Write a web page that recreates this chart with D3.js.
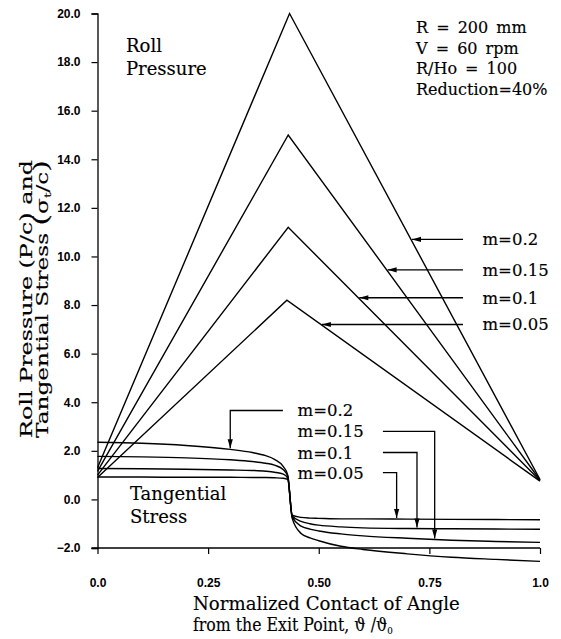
<!DOCTYPE html>
<html>
<head>
<meta charset="utf-8">
<script src="https://cdn.jsdelivr.net/npm/d3@7"></script>
<style>
  body { margin: 0; background: #fff; }
  .txt { font-family: "DejaVu Serif", "Liberation Serif", serif; fill: #000; stroke: #000; stroke-width: 0.15px; }
  .tick text { font-family: "Liberation Sans Narrow", "Liberation Sans", Arial, sans-serif; font-weight: bold; font-size: 12px; }
</style>
</head>
<body>
<div id="svg"></div>
<script>
// m values, ordered small -> large
var mLabels = ["m=0.05", "m=0.1", "m=0.15", "m=0.2"];

// roll pressure: straight rise to peak, straight fall to exit
var pressureStart = [0.9, 1.0, 1.15, 1.3];
var pressurePeakX = [0.428, 0.431, 0.431, 0.434];
var pressurePeak  = [8.2, 11.2, 15.0, 20.0];
var pressureEnd   = [0.75, 0.78, 0.8, 0.82];

// tangential stress
var stressX = [0, 0.1, 0.2, 0.3, 0.35, 0.38, 0.40, 0.42, 0.43, 0.44, 0.46, 0.48, 0.5, 0.55, 0.6, 0.7, 0.8, 0.9, 1.0];
var stress005 = [0.92, 0.92, 0.91, 0.91, 0.90, 0.90, 0.89, 0.87, 0.82, -0.65, -0.74, -0.77, -0.78, -0.80, -0.80, -0.81, -0.82, -0.83, -0.84];
var stress010 = [1.27, 1.26, 1.24, 1.21, 1.19, 1.16, 1.12, 1.04, 0.88, -0.68, -0.90, -1.00, -1.06, -1.13, -1.17, -1.20, -1.21, -1.22, -1.23];
var stress015 = [1.77, 1.75, 1.71, 1.63, 1.56, 1.49, 1.41, 1.22, 0.94, -0.72, -1.10, -1.22, -1.30, -1.42, -1.50, -1.60, -1.68, -1.73, -1.77];
var stress020 = [2.35, 2.31, 2.22, 2.06, 1.93, 1.80, 1.65, 1.35, 1.00, -0.78, -1.40, -1.58, -1.70, -1.93, -2.06, -2.24, -2.38, -2.47, -2.55];
var stressSeries = [stress005, stress010, stress015, stress020];

// annotation anchors (data units)
var pressLabelY  = [7.2, 8.3, 9.45, 10.7];
var stressLabelY = [1.1, 1.93, 2.8, 3.66];
var stressArrowX = [0.676, 0.722, 0.762, 0.30];

var xTicks = [0, 0.25, 0.5, 0.75, 1.0];
var xTickLabels = ["0.0", "0.25", "0.50", "0.75", "1.0"];
var yTicks = [-2, 0, 2, 4, 6, 8, 10, 12, 14, 16, 18, 20];

var infoLines = ["R = 200 mm", "V = 60 rpm", "R/Ho = 100", "Reduction=40%"];

var width = 561, height = 639;
var margin = {left: 97.5, top: 13.5, right: 21, bottom: 91};

var svg = d3.select("#svg").append("svg")
    .attr("width", width)
    .attr("height", height);

var x = d3.scaleLinear().domain([0, 1]).range([margin.left, width - margin.right]);
var y = d3.scaleLinear().domain([-2, 20]).range([height - margin.bottom, margin.top]);

// axes
var xAxis = svg.append("g")
    .attr("transform", "translate(0," + y(-2) + ")")
    .call(d3.axisBottom(x).tickValues(xTicks).tickFormat((d, i) => xTickLabels[i]).tickSize(6).tickPadding(24));
var yAxis = svg.append("g")
    .attr("transform", "translate(" + x(0) + ",0)")
    .call(d3.axisLeft(y).tickValues(yTicks).tickFormat(d3.format(".1f")).tickSize(6).tickPadding(11));
[xAxis, yAxis].forEach(function(a) {
    a.select(".domain").attr("stroke", "#000").attr("stroke-width", 1.3);
    a.selectAll(".tick line").attr("stroke", "#000").attr("stroke-width", 1.2);
    a.selectAll(".tick text").attr("fill", "#000");
});
xAxis.select(".domain").attr("d", "M" + (x(0) - 6) + ",0H" + x(1));

var line = d3.line().x(d => x(d[0])).y(d => y(d[1]));
var curve = d3.line().x(d => x(d[0])).y(d => y(d[1])).curve(d3.curveMonotoneX);

// roll pressure
var pressureData = pressurePeak.map(function(p, i) {
    return [[0, pressureStart[i]], [pressurePeakX[i], p], [1, pressureEnd[i]]];
});
svg.append("g").selectAll("path")
    .data(pressureData)
    .join("path")
    .attr("d", line)
    .attr("fill", "none")
    .attr("stroke", "#000")
    .attr("stroke-width", 1.4);

// tangential stress
var stressData = stressSeries.map(s => s.map((v, i) => [stressX[i], v]));
svg.append("g").selectAll("path")
    .data(stressData)
    .join("path")
    .attr("d", curve)
    .attr("fill", "none")
    .attr("stroke", "#000")
    .attr("stroke-width", 1.4);

function arrowHead(tx, ty, dir) {
    // dir: "left" or "down"; tip at (tx,ty)
    var l = 9, w = 2.6;
    if (dir === "left") return "M" + tx + "," + ty + "L" + (tx + l) + "," + (ty - w) + "L" + (tx + l) + "," + (ty + w) + "Z";
    return "M" + tx + "," + ty + "L" + (tx - w) + "," + (ty - l) + "L" + (tx + w) + "," + (ty - l) + "Z";
}

// x on the falling side of a pressure line for a given value
function fallX(i, v) {
    var x0 = pressurePeakX[i], y0 = pressurePeak[i], y1 = pressureEnd[i];
    return x0 + (y0 - v) / (y0 - y1) * (1 - x0);
}
function stressAt(s, xv) {
    return d3.scaleLinear().domain(stressX).range(stressSeries[s])(xv);
}

// squeeze a text horizontally to a given width (the original lettering is narrow)
function fit(sel, x0, w) {
    var len = sel.node().getComputedTextLength();
    sel.attr("transform", "translate(" + x0 + ",0) scale(" + (w / len) + ",1) translate(" + (-x0) + ",0)");
}

var ann = svg.append("g");
var lineEndX = 0.826, labelX = 0.870;

// pressure annotations
mLabels.forEach(function(lab, i) {
    var tx = x(fallX(i, pressLabelY[i])) + 1, ty = y(pressLabelY[i]);
    ann.append("path").attr("d", "M" + x(lineEndX) + "," + ty + "H" + tx)
        .attr("stroke", "#000").attr("stroke-width", 1.3).attr("fill", "none");
    ann.append("path").attr("d", arrowHead(tx, ty, "left")).attr("fill", "#000");
    ann.append("text").attr("class", "txt").attr("x", x(labelX)).attr("y", ty + 6)
        .attr("font-size", 16.5).text(lab);
});

// stress annotations
var sLabelX = 0.452, sLineStart = 0.645;
mLabels.forEach(function(lab, i) {
    var ly = y(stressLabelY[i]);
    var ax = x(stressArrowX[i]);
    var tipY = y(stressAt(i, stressArrowX[i])) - 1;
    var startX = i === 3 ? x(0.419) : x(sLineStart);
    ann.append("path").attr("d", "M" + startX + "," + ly + "H" + ax + "V" + tipY)
        .attr("stroke", "#000").attr("stroke-width", 1.3).attr("fill", "none");
    ann.append("path").attr("d", arrowHead(ax, tipY, "down")).attr("fill", "#000");
    ann.append("text").attr("class", "txt").attr("x", x(sLabelX)).attr("y", ly + 6)
        .attr("font-size", 16.5).text(lab);
});

// text blocks
var info = svg.append("g");
infoLines.forEach(function(t, i) {
    info.append("text").attr("class", "txt").attr("x", 416).attr("y", 33 + i * 20.7)
        .attr("font-size", 16).attr("word-spacing", 3).text(t);
});
info.append("text").attr("class", "txt").attr("x", 126).attr("y", 52).attr("font-size", 18).text("Roll");
info.append("text").attr("class", "txt").attr("x", 126).attr("y", 75).attr("font-size", 18).text("Pressure");
info.append("text").attr("class", "txt").attr("x", 130).attr("y", 500).attr("font-size", 18).text("Tangential");
info.append("text").attr("class", "txt").attr("x", 130).attr("y", 523).attr("font-size", 18).text("Stress");

// axis titles
var xt1 = svg.append("text").attr("class", "txt").attr("x", 193).attr("y", 610).attr("font-size", 18)
    .text("Normalized Contact of Angle");
fit(xt1, 193, 267);
var xt2 = svg.append("text").attr("class", "txt").attr("x", 193).attr("y", 631).attr("font-size", 18);
xt2.append("tspan").text("from the Exit Point,  \u03D1 /\u03D1");
xt2.append("tspan").attr("font-size", 10).attr("dy", 3).text("0");
fit(xt2, 193, 200);

var yt = svg.append("g").attr("transform", "translate(0,300) rotate(-90)");
var yt1 = yt.append("text").attr("class", "txt").attr("x", -138).attr("y", 32).attr("font-size", 16.5)
    .text("Roll Pressure (P/c) and");
fit(yt1, -138, 278);
var yt2 = yt.append("text").attr("class", "txt").attr("x", -138).attr("y", 48).attr("font-size", 16.5);
yt2.append("tspan").text("Tangential Stress ");
yt2.append("tspan").attr("font-size", 21).text("(");
yt2.append("tspan").text("\u03C3");
yt2.append("tspan").attr("font-size", 10).attr("dy", 3).text("t");
yt2.append("tspan").attr("dy", -3).text("/c");
yt2.append("tspan").attr("font-size", 21).text(")");
fit(yt2, -138, 278);
</script>
</body>
</html>
